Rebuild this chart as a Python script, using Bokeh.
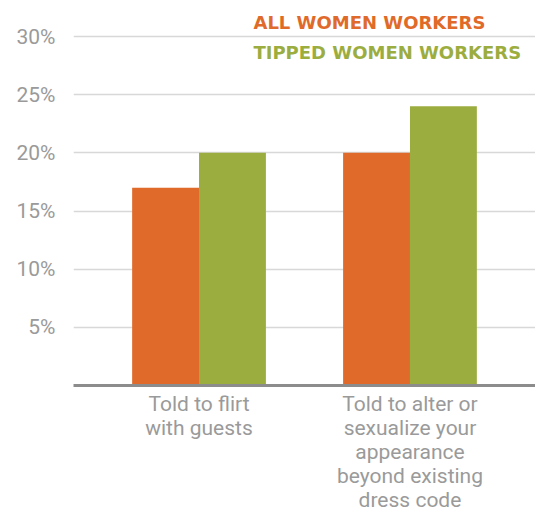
from bokeh.plotting import figure
from bokeh.models import FactorRange, Range1d, FixedTicker, PrintfTickFormatter, Label, ColumnDataSource
from bokeh.transform import dodge
from bokeh.embed import file_html
from bokeh.resources import INLINE

categories = [
    "Told to flirt\nwith guests",
    "Told to alter or\nsexualize your\nappearance\nbeyond existing\ndress code",
]
all_women = [17, 20]
tipped_women = [20, 24]
series_names = ["ALL WOMEN WORKERS", "TIPPED WOMEN WORKERS"]
y_ticks = [5, 10, 15, 20, 25, 30]

ORANGE = "#DF6A2A"
GREEN = "#9CAD3F"
GRAY_TXT = "#9a9a9a"

src = ColumnDataSource(dict(cat=categories, a=all_women, t=tipped_women))

p = figure(
    width=535, height=514,
    x_range=FactorRange(*categories, range_padding=0.095),
    y_range=Range1d(0, 33.1),
    output_backend="svg", toolbar_location=None,
    min_border_left=73, min_border_right=0, min_border_top=0, min_border_bottom=128,
)
p.outline_line_color = None
p.background_fill_color = "white"
p.border_fill_color = "white"

bw = 0.317
p.vbar(x=dodge("cat", -bw / 2, range=p.x_range), top="a", width=bw, source=src,
       fill_color=ORANGE, line_color=None)
p.vbar(x=dodge("cat", bw / 2, range=p.x_range), top="t", width=bw, source=src,
       fill_color=GREEN, line_color=None)

p.xgrid.grid_line_color = None
p.ygrid.grid_line_color = "#d8d8d8"
p.ygrid.grid_line_width = 1.5

p.yaxis.ticker = FixedTicker(ticks=y_ticks)
p.yaxis.formatter = PrintfTickFormatter(format="%d%%")
p.yaxis.axis_line_color = None
p.yaxis.major_tick_line_color = None
p.yaxis.minor_tick_line_color = None
p.yaxis.major_label_text_font = "Roboto"
p.yaxis.major_label_text_font_size = "21px"
p.yaxis.major_label_text_color = GRAY_TXT
p.yaxis.major_label_standoff = 12

p.xaxis.axis_line_color = "#8c8c8c"
p.xaxis.axis_line_width = 3
p.xaxis.major_tick_line_color = None
p.xaxis.minor_tick_line_color = None
p.xaxis.major_label_text_font = "Roboto"
p.xaxis.major_label_text_font_size = "21px"
p.xaxis.major_label_text_color = GRAY_TXT
p.xaxis.major_label_text_line_height = 1.0
p.xaxis.major_label_standoff = 0
p.xaxis.major_label_orientation = "horizontal"

for name, color, yy in zip(series_names, [ORANGE, GREEN], [31.2, 28.6]):
    p.add_layout(Label(x=0.758, y=yy, text=name, text_color=color,
                       text_font="DejaVu Sans", text_font_style="bold",
                       text_font_size="18px", text_baseline="middle", text_align="left"))

open("out.html", "w").write(file_html(p, INLINE))
